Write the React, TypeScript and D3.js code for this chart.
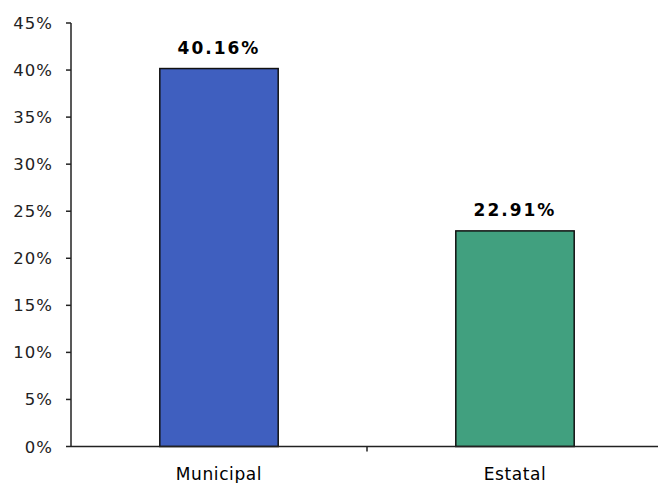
import React from "react";
import * as d3 from "d3";

const categories = ["Municipal", "Estatal"];
const values = [40.16, 22.91];
const valueLabels = ["40.16%", "22.91%"];
const yTicks = [0, 5, 10, 15, 20, 25, 30, 35, 40, 45];
const colors = ["#3F5FBF", "#41A07F"];

const W = 658;
const H = 483;
const left = 71;
const right = 663;
const top = 23;
const bottom = 446.5;

export default function App() {
  const x = d3.scaleBand<string>().domain(categories).range([left, right]).paddingInner(0).paddingOuter(0);
  const y = d3.scaleLinear().domain([0, 45]).range([bottom, top]);
  const bw = x.bandwidth() * 0.4;
  return (
    <svg width={W} height={H} style={{ position: "absolute", left: 0, top: 0, background: "#fff" }}>
      {categories.map((c, i) => {
        const cx = (x(c) as number) + x.bandwidth() / 2;
        return (
          <g key={c}>
            <rect
              x={cx - bw / 2}
              y={y(values[i])}
              width={bw}
              height={bottom - y(values[i])}
              fill={colors[i]}
              stroke="#111"
              strokeWidth={1.5}
            />
            <text
              x={cx}
              y={y(values[i]) - 15}
              textAnchor="middle"
              fontFamily="DejaVu Sans"
              fontWeight="bold"
              fontSize={17}
              letterSpacing={2}
              fill="#000"
            >
              {valueLabels[i]}
            </text>
            <text x={cx} y={480} textAnchor="middle" fontFamily="DejaVu Sans" fontSize={17} letterSpacing={0.6} fill="#000">
              {c}
            </text>
          </g>
        );
      })}
      <line x1={left} x2={left} y1={top} y2={bottom} stroke="#222" strokeWidth={1.5} />
      <line x1={left} x2={W} y1={bottom} y2={bottom} stroke="#222" strokeWidth={1.5} />
      {yTicks.map((t) => (
        <g key={t}>
          <line x1={left - 5} x2={left} y1={y(t)} y2={y(t)} stroke="#222" strokeWidth={1.5} />
          <text x={53} y={y(t) + 6} textAnchor="end" fontFamily="DejaVu Sans" fontSize={16.5} letterSpacing={1} fill="#222">
            {t + "%"}
          </text>
        </g>
      ))}
      <line x1={(x(categories[1]) as number)} x2={(x(categories[1]) as number)} y1={bottom} y2={bottom + 5} stroke="#222" strokeWidth={1.5} />
    </svg>
  );
}
